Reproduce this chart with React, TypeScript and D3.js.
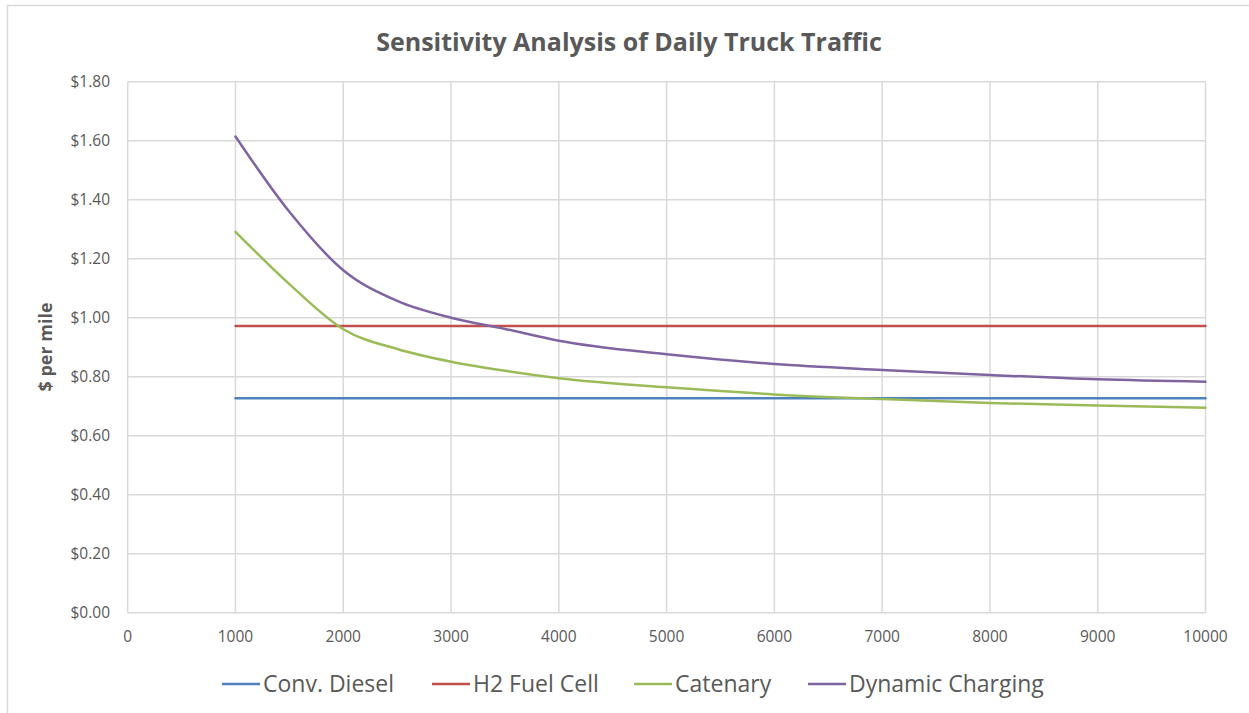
import * as d3 from 'd3'

// daily trucks (x) and cost in $ per mile
const traffic = [1000, 1500, 2000, 2500, 3000, 3500, 4000, 5000, 6000, 7000, 8000, 9000, 10000]
const dieselCost = [0.727, 0.727, 0.727, 0.727, 0.727, 0.727, 0.727, 0.727, 0.727, 0.727, 0.727, 0.727, 0.727]
const h2Cost = [0.972, 0.972, 0.972, 0.972, 0.972, 0.972, 0.972, 0.972, 0.972, 0.972, 0.972, 0.972, 0.972]
const catenaryCost = [1.291, 1.114, 0.961, 0.894, 0.851, 0.82, 0.795, 0.764, 0.74, 0.724, 0.711, 0.702, 0.695]
const dynamicCost = [1.614, 1.359, 1.161, 1.057, 1.0, 0.962, 0.922, 0.876, 0.843, 0.823, 0.806, 0.791, 0.783]

const seriesNames = ['Conv. Diesel', 'H2 Fuel Cell', 'Catenary', 'Dynamic Charging']
const seriesColors = ['#4F81BD', '#C0504D', '#9BBB59', '#8064A2']
const seriesValues = [dieselCost, h2Cost, catenaryCost, dynamicCost]

const xTicks = [0, 1000, 2000, 3000, 4000, 5000, 6000, 7000, 8000, 9000, 10000]
const yTicks = [0, 0.2, 0.4, 0.6, 0.8, 1.0, 1.2, 1.4, 1.6, 1.8]

const W = 1249
const H = 713
const plot = { left: 127.7, right: 1205.5, top: 81.7, bottom: 612.7 }
const font = '"Open Sans", Lato, sans-serif'
const textColor = '#595959'
const gridColor = '#D9D9D9'

// legend item starting x (line start) – layout only
const legendX = [222, 432, 634, 808]

export default function App() {
  const x = d3.scaleLinear().domain([0, 10000]).range([plot.left, plot.right])
  const y = d3.scaleLinear().domain([0, 1.8]).range([plot.bottom, plot.top])

  const line = d3
    .line<number>()
    .x((_, i) => x(traffic[i]))
    .y((d) => y(d))
    .curve(d3.curveMonotoneX)

  return (
    <svg
      width={W}
      height={H}
      style={{ position: 'absolute', left: 0, top: 0, background: '#fff' }}
      fontFamily={font}
    >
      {/* chart border */}
      <rect x={7.5} y={5.5} width={W} height={H} fill="none" stroke={gridColor} strokeWidth={1.5} />

      <text
        x={629}
        y={42}
        dy="0.35em"
        textAnchor="middle"
        fontSize={25}
        fontWeight="bold"
        fill={textColor}
      >
        Sensitivity Analysis of Daily Truck Traffic
      </text>

      {/* gridlines */}
      {yTicks.map((t) => (
        <line key={'gy' + t} x1={plot.left} x2={plot.right} y1={y(t)} y2={y(t)} stroke={gridColor} strokeWidth={1.5} />
      ))}
      {xTicks.map((t) => (
        <line key={'gx' + t} x1={x(t)} x2={x(t)} y1={plot.top} y2={plot.bottom} stroke={gridColor} strokeWidth={1.5} />
      ))}

      {/* y tick labels */}
      {yTicks.map((t) => (
        <text key={'ly' + t} x={110} y={y(t)} dy="0.35em" textAnchor="end" fontSize={15.5} fill={textColor}>
          {d3.format('$.2f')(t)}
        </text>
      ))}
      {/* x tick labels */}
      {xTicks.map((t) => (
        <text key={'lx' + t} x={x(t)} y={637} dy="0.35em" textAnchor="middle" fontSize={15.5} fill={textColor}>
          {t}
        </text>
      ))}

      <text
        transform={`translate(46, 347) rotate(-90)`}
        textAnchor="middle"
        dy="0.35em"
        fontSize={18}
        fontWeight="bold"
        fill={textColor}
      >
        $ per mile
      </text>

      {/* series */}
      {seriesValues.map((vals, i) => (
        <path
          key={seriesNames[i]}
          d={line(vals) ?? ''}
          fill="none"
          stroke={seriesColors[i]}
          strokeWidth={2.5}
          strokeLinecap="round"
        />
      ))}

      {/* legend */}
      {seriesNames.map((name, i) => (
        <g key={'lg' + name} transform={`translate(${legendX[i]}, 684)`}>
          <line x1={0} x2={38} y1={0} y2={0} stroke={seriesColors[i]} strokeWidth={2.5} />
          <text x={41} y={0} dy="0.35em" fontSize={23} fill={textColor}>
            {name}
          </text>
        </g>
      ))}
    </svg>
  )
}
